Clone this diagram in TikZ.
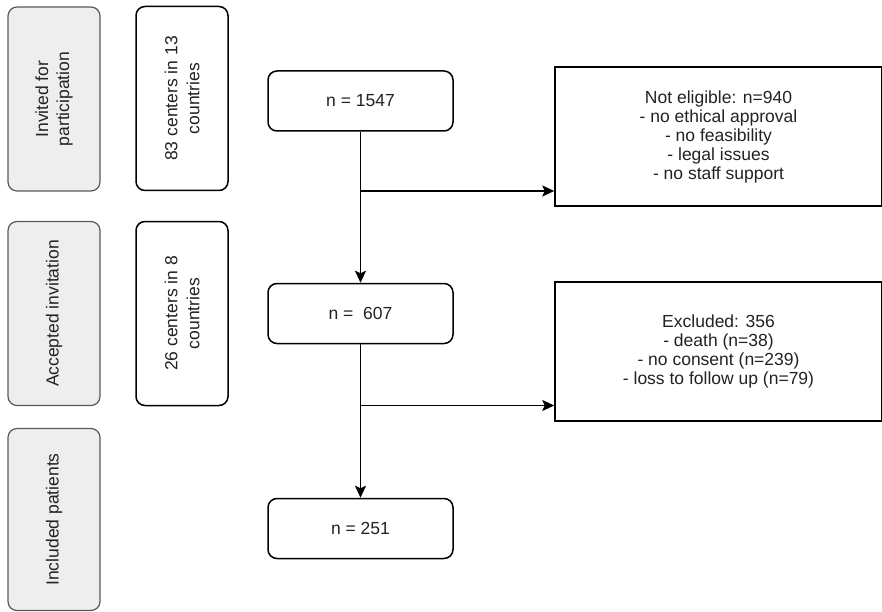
\documentclass[tikz,border=0pt]{standalone}
\usepackage{fontspec}
\setmainfont{Liberation Sans}
\usetikzlibrary{positioning,arrows.meta}
\definecolor{phasegray}{HTML}{EEEEEE}
\definecolor{inkgray}{HTML}{222222}
\tikzset{phase/.style = {draw=black!65, fill=phasegray, rounded corners=9pt, rotate=90, minimum width=184pt, minimum height=92pt, align=center, line width=1.2pt, font=\fontsize{17.5pt}{21pt}\selectfont}}
\tikzset{sites/.style = {draw, rounded corners=9pt, rotate=90, minimum width=184pt, minimum height=92pt, align=center, line width=1.5pt, font=\fontsize{17.5pt}{22pt}\selectfont}}
\tikzset{count/.style = {draw, rounded corners=9pt, minimum width=185pt, minimum height=60pt, line width=1.5pt}}
\tikzset{reason/.style = {draw, minimum width=327pt, minimum height=139pt, align=center, line width=1.5pt}}

\begin{document}
\begin{tikzpicture}[x=1pt, y=-1pt, >={Stealth[length=12pt,width=11pt,inset=2.5pt]}, line width=1.7pt, text=inkgray, font=\fontsize{17.5pt}{19pt}\selectfont]
  \useasboundingbox (0,0) rectangle (882,612);

  % phases on the left
  \node [phase] (invited) at (54,99) {Invited for\\participation};
  \node [phase] (accepted) at (54,313.5) {Accepted invitation};
  \node [phase, minimum width=182pt] (included) at (54,519.5) {Included patients};
  \node [sites] (sites1) at (182,98.5) {83 centers in 13\\countries};
  \node [sites] (sites2) at (182,313.5) {26 centers in 8\\countries};

  % main flow
  \node [count] (n1) at (360.5,101) {n = 1547};
  \node [count] (n2) at (360.5,313.5) {n = \ 607};
  \node [count] (n3) at (360.5,528.5) {n = 251};

  \node [reason] (notelig) at (718.5,136.5) {Not eligible: n=940\\- no ethical approval\\- no feasibility\\- legal issues\\- no staff support};
  \node [reason] (excl) at (718.5,351.5) {Excluded: 356\\- death (n=38)\\- no consent (n=239)\\- loss to follow up (n=79)};

  \coordinate (b1) at (360.5,191);
  \coordinate (b2) at (360.5,405.5);

  \draw[->] (n1) -- (n2);
  \draw[->] (n2) -- (n3);
  \draw[->] (b1) -- (b1 -| notelig.west);
  \draw[->] (b2) -- (b2 -| excl.west);
\end{tikzpicture}
\end{document}
